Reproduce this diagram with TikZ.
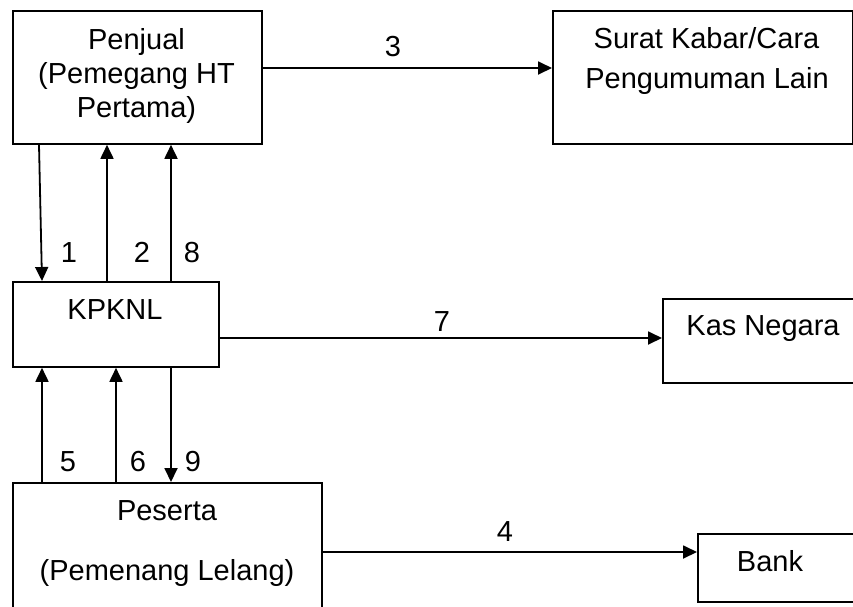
\documentclass[tikz,border=0pt]{standalone}
\usepackage{fontspec}
\setmainfont{Liberation Sans}
\usetikzlibrary{arrows.meta}
\begin{document}
\begin{tikzpicture}[x=1pt,y=-1pt,
  box/.style={draw, line width=1.8pt, anchor=north west, inner sep=0pt},
  conn/.style={line width=1.8pt, -{Triangle[length=14pt,width=13pt]}},
  txt/.style={font=\fontsize{29}{34}\selectfont, anchor=base, inner sep=0pt}]
\useasboundingbox (0,0) rectangle (853,606);
\clip (0,0) rectangle (853,606);
\fill[white] (0,0) rectangle (853,606);
% boxes
\node[box, minimum width=249pt, minimum height=133pt] (penjual) at (12,10) {};
\node[box, minimum width=300pt, minimum height=133pt] (surat) at (552,10) {};
\node[box, minimum width=206pt, minimum height=85pt] (kpknl) at (12,281) {};
\node[box, minimum width=200pt, minimum height=84pt] (kas) at (662,298) {};
\node[box, minimum width=309pt, minimum height=140pt] (peserta) at (12,482) {};
\node[box, minimum width=170pt, minimum height=68pt] (bank) at (697,533) {};
% texts
\node[txt] (t1) at (136.5,49) {Penjual};
\node[txt] (t2) at (136.5,83) {(Pemegang HT};
\node[txt] (t3) at (136.5,117) {Pertama)};
\node[txt] (t4) at (706.5,48) {Surat Kabar/Cara};
\node[txt] (t5) at (707,88) {Pengumuman Lain};
\node[txt] (t6) at (115,319) {KPKNL};
\node[txt] (t7) at (763,335) {Kas Negara};
\node[txt] (t8) at (167,520) {Peserta};
\node[txt] (t9) at (167,580) {(Pemenang Lelang)};
\node[txt] (t10) at (770,571) {Bank};
% connectors
\draw[conn] ([xshift=27pt]penjual.south west) -- ([xshift=30pt]kpknl.north west);
\draw[conn] ([xshift=95pt]kpknl.north west) -- ([xshift=95pt]penjual.south west);
\draw[conn] ([xshift=159pt]kpknl.north west) -- ([xshift=159pt]penjual.south west);
\draw[conn] ([xshift=30pt]peserta.north west) -- ([xshift=30pt]kpknl.south west);
\draw[conn] ([xshift=104pt]peserta.north west) -- ([xshift=104pt]kpknl.south west);
\draw[conn] ([xshift=159pt]kpknl.south west) -- ([xshift=159pt]peserta.north west);
\draw[conn] ([yshift=-58pt]penjual.north east) -- ([yshift=-58pt]penjual.north east -| surat.west);
\draw[conn] ([yshift=-57pt]kpknl.north east) -- ([yshift=-57pt]kpknl.north east -| kas.west);
\draw[conn] ([yshift=-70pt]peserta.north east) -- ([yshift=-70pt]peserta.north east -| bank.west);
% labels
\node[txt] (l1) at (69,262) {1};
\node[txt] (l2) at (142,262) {2};
\node[txt] (l8) at (192,262) {8};
\node[txt] (l5) at (68,471.5) {5};
\node[txt] (l6) at (138,471.5) {6};
\node[txt] (l9) at (193,471.5) {9};
\node[txt] (l3) at (393,56.5) {3};
\node[txt] (l7) at (442,331) {7};
\node[txt] (l4) at (505,541) {4};
\end{tikzpicture}
\end{document}
